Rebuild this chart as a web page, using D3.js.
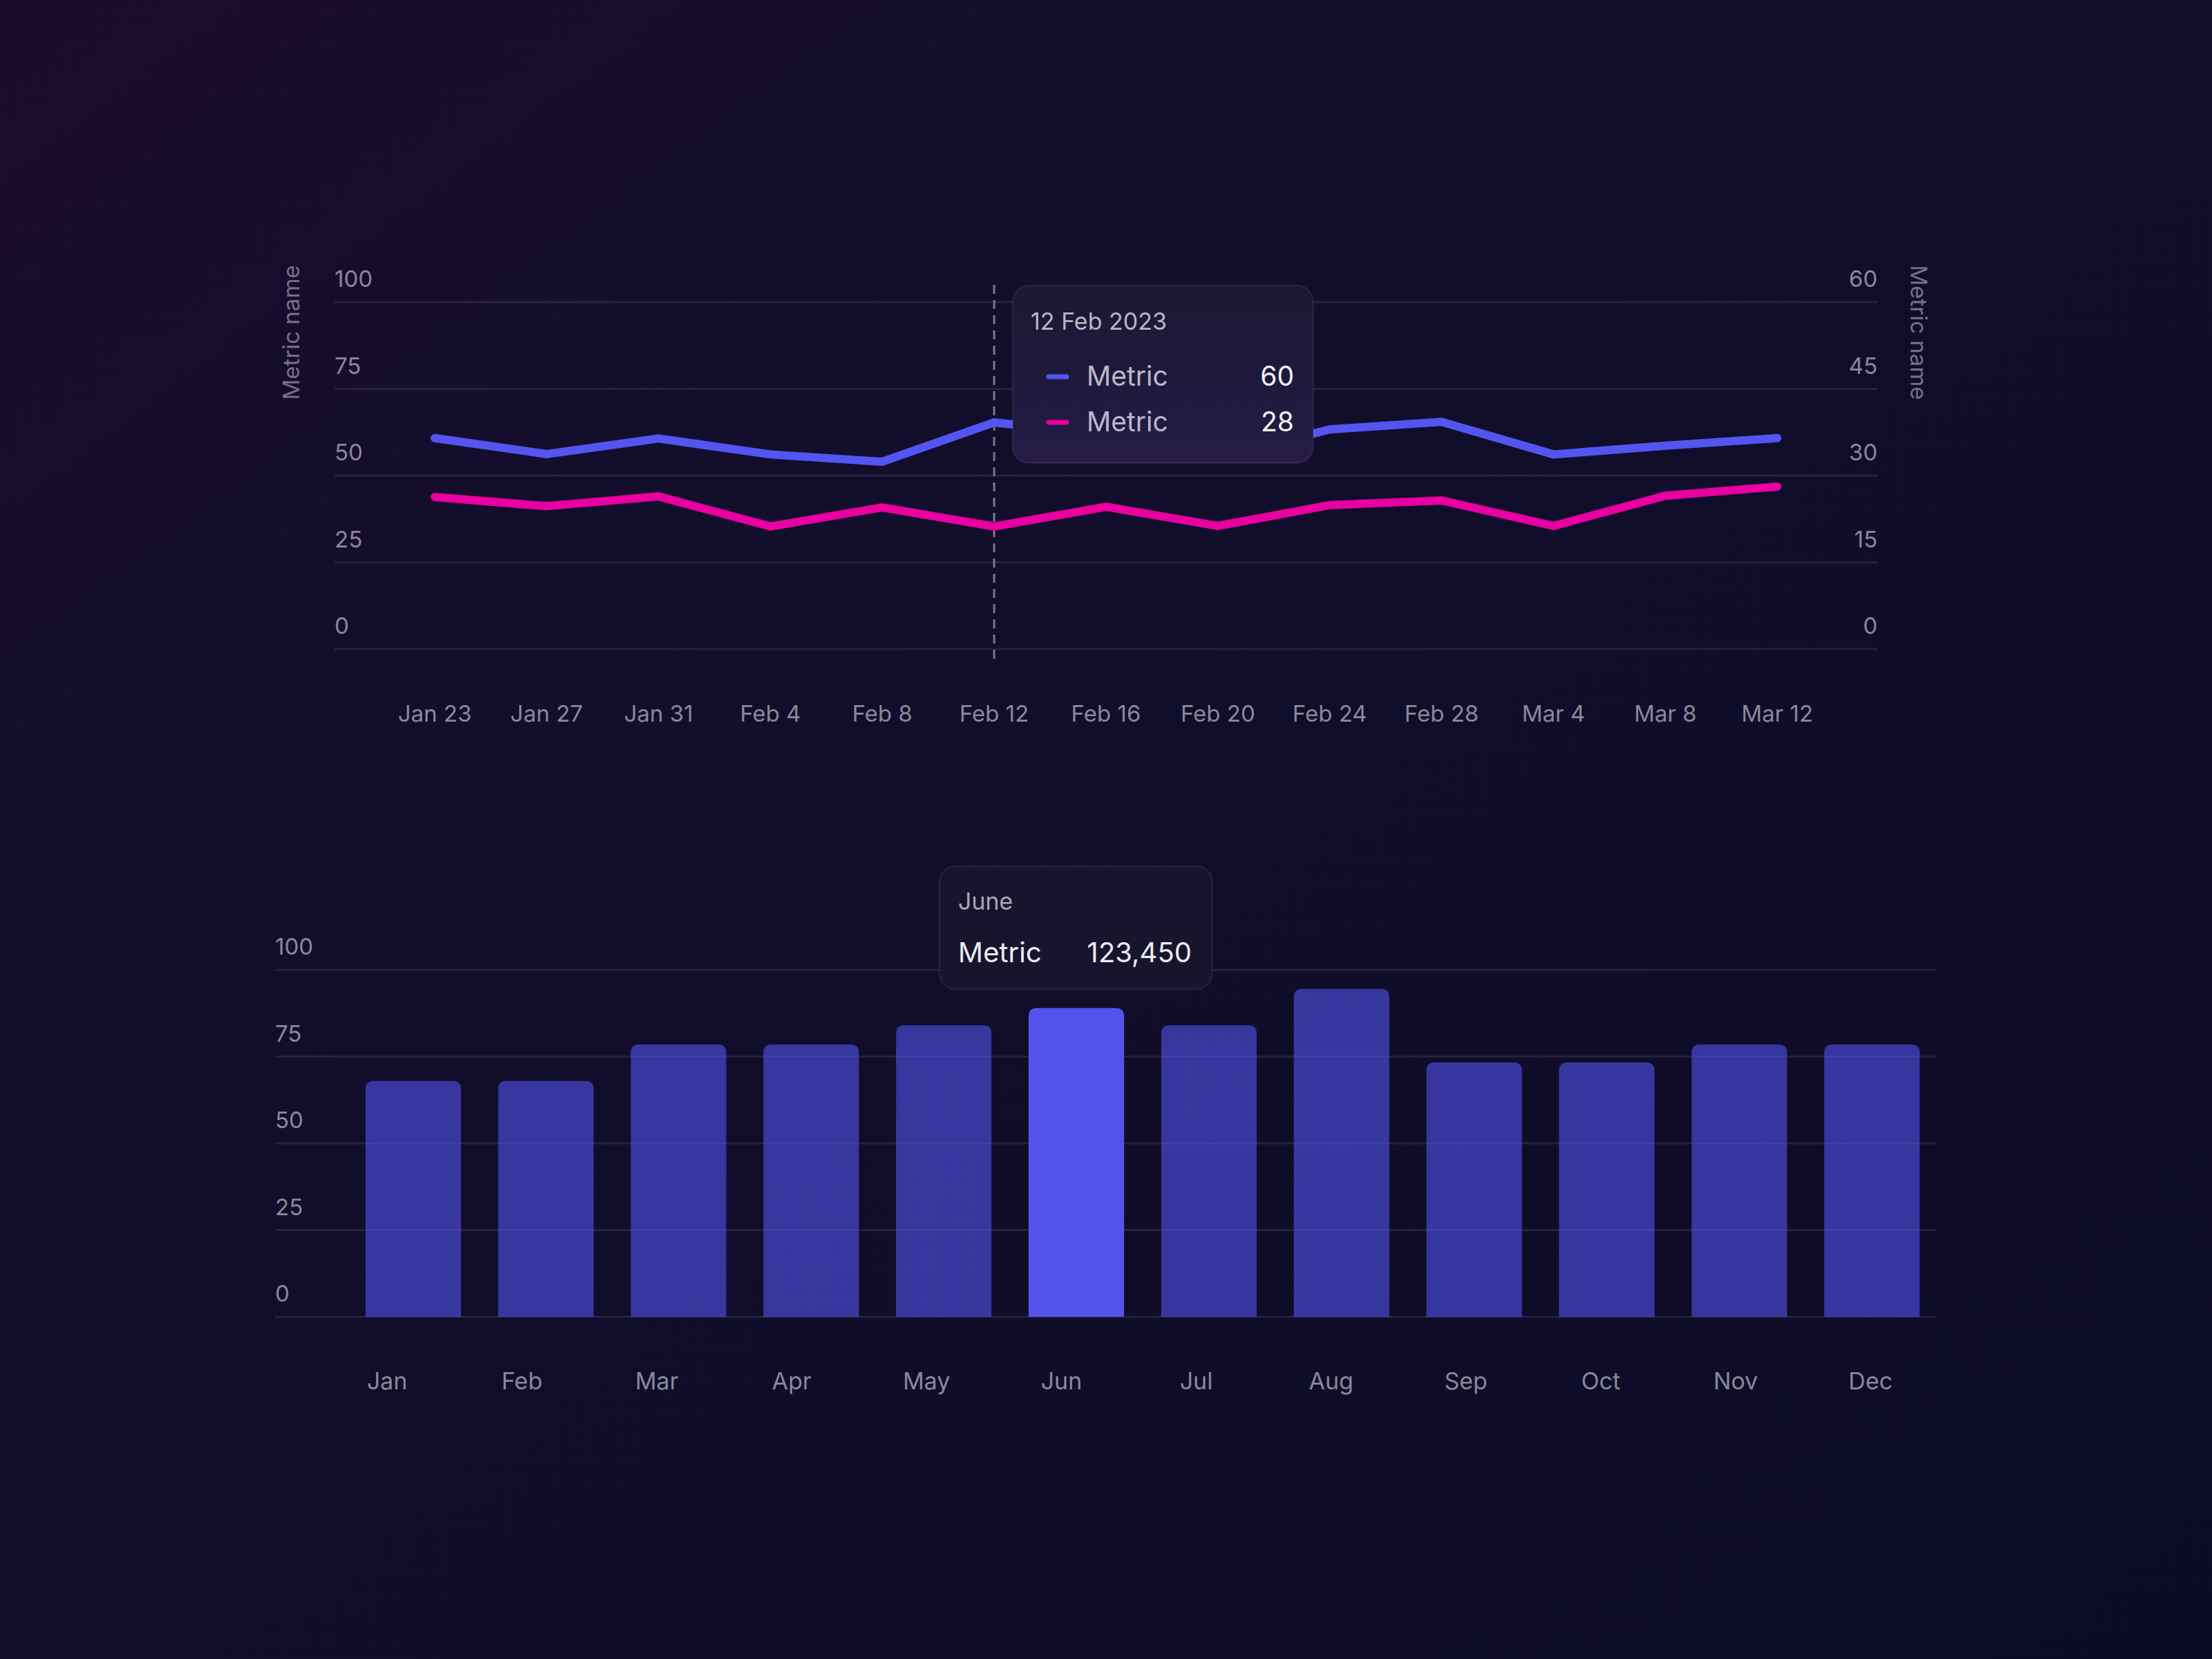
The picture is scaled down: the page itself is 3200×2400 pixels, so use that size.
<!DOCTYPE html>
<html>
<head>
<meta charset="utf-8">
<script src="https://cdn.jsdelivr.net/npm/d3@7"></script>
<style>
  html, body { margin: 0; padding: 0; background: #110e2b; }
  svg { display: block; font-family: Inter, 'Noto Sans', sans-serif; }
</style>
</head>
<body>
<svg id="chart" width="3200" height="2400"></svg>
<script>
// ---- data: line chart ----
const dates = ['Jan 23', 'Jan 27', 'Jan 31', 'Feb 4', 'Feb 8', 'Feb 12', 'Feb 16',
               'Feb 20', 'Feb 24', 'Feb 28', 'Mar 4', 'Mar 8', 'Mar 12'];
const blueValues = [60.8, 56.2, 60.7, 56.1, 54, 65.3, 62, 55, 63.3, 65.5, 56.1, 58.6, 60.8]; // left axis
const pinkValues = [26.3, 24.7, 26.4, 21.2, 24.5, 21.2, 24.6, 21.3, 24.9, 25.7, 21.3, 26.5, 28.1]; // right axis
const leftTicks = [0, 25, 50, 75, 100];
const rightTicks = [0, 15, 30, 45, 60];
const hoverDate = 'Feb 12';
const lineTooltip = { title: '12 Feb 2023', rows: [['Metric', '60'], ['Metric', '28']] };

// ---- data: bar chart ----
const months = ['Jan', 'Feb', 'Mar', 'Apr', 'May', 'Jun', 'Jul', 'Aug', 'Sep', 'Oct', 'Nov', 'Dec'];
const barValues = [68, 68, 78.5, 78.5, 84, 89, 84, 94.5, 73.3, 73.3, 78.5, 78.5];
const barTicks = [0, 25, 50, 75, 100];
const hoverMonth = 'Jun';
const barTooltip = { title: 'June', label: 'Metric', value: '123,450' };

const blue = '#5455f0';
const pink = '#e800a0';
const barColor = '#5353ec';
const gridColor = 'rgba(255,255,255,0.09)';
const tickColor = '#8b8799';

const svg = d3.select('#chart');
const defs = svg.append('defs');

// background gradient
const bg = defs.append('linearGradient').attr('id', 'bg')
    .attr('x1', 0).attr('y1', 0).attr('x2', 1).attr('y2', 1);
bg.append('stop').attr('offset', '0%').attr('stop-color', '#1b0b2b');
bg.append('stop').attr('offset', '30%').attr('stop-color', '#120e2c');
bg.append('stop').attr('offset', '100%').attr('stop-color', '#0c0b27');
svg.append('rect').attr('width', 3200).attr('height', 2400).attr('fill', 'url(#bg)');

const tipGrad = defs.append('linearGradient').attr('id', 'tipGrad')
    .attr('x1', 0).attr('y1', 0).attr('x2', 0).attr('y2', 1);
tipGrad.append('stop').attr('offset', '0%').attr('stop-color', '#1c1833');
tipGrad.append('stop').attr('offset', '70%').attr('stop-color', '#1f1a40');
tipGrad.append('stop').attr('offset', '100%').attr('stop-color', '#281c48');

// =================== line chart ===================
const lineBox = { left: 484, right: 2716, top: 437, bottom: 939 };

const x = d3.scalePoint().domain(dates).range([629, 2571]);
const yLeft = d3.scaleLinear().domain([0, 100]).range([lineBox.bottom, lineBox.top]);
const yRight = d3.scaleLinear().domain([0, 60]).range([lineBox.bottom, lineBox.top]);

const lineG = svg.append('g');

// gridlines
lineG.append('g').selectAll('line')
    .data(leftTicks)
    .join('line')
    .attr('x1', lineBox.left).attr('x2', lineBox.right)
    .attr('y1', d => yLeft(d)).attr('y2', d => yLeft(d))
    .attr('stroke', gridColor).attr('stroke-width', 3);

// left tick labels
lineG.append('g').selectAll('text')
    .data(leftTicks)
    .join('text')
    .attr('x', lineBox.left).attr('y', d => yLeft(d) - 22)
    .attr('fill', tickColor).style('font-size', '33px')
    .text(d => d);

// right tick labels
lineG.append('g').selectAll('text')
    .data(rightTicks)
    .join('text')
    .attr('x', lineBox.right).attr('y', d => yRight(d) - 22)
    .attr('text-anchor', 'end')
    .attr('fill', tickColor).style('font-size', '33px')
    .text(d => d);

// axis titles
lineG.append('text')
    .attr('transform', 'translate(433, 481) rotate(-90)')
    .attr('text-anchor', 'middle')
    .attr('fill', '#75718a').style('font-size', '33px')
    .text('Metric name');

lineG.append('text')
    .attr('transform', 'translate(2764, 481) rotate(90)')
    .attr('text-anchor', 'middle')
    .attr('fill', '#75718a').style('font-size', '33px')
    .text('Metric name');

// x labels
lineG.append('g').selectAll('text')
    .data(dates)
    .join('text')
    .attr('x', d => x(d)).attr('y', 1044)
    .attr('text-anchor', 'middle')
    .attr('fill', tickColor).style('font-size', '33px')
    .text(d => d);

// hover guide
lineG.append('line')
    .attr('x1', x(hoverDate)).attr('x2', x(hoverDate))
    .attr('y1', 412).attr('y2', 960)
    .attr('stroke', '#7a768b').attr('stroke-width', 3)
    .attr('stroke-dasharray', '13 9');

// series
const blueLine = d3.line().x((d, i) => x(dates[i])).y(d => yLeft(d));
const pinkLine = d3.line().x((d, i) => x(dates[i])).y(d => yRight(d));

lineG.append('path')
    .datum(pinkValues)
    .attr('d', pinkLine)
    .attr('fill', 'none').attr('stroke', pink)
    .attr('stroke-width', 12).attr('stroke-linecap', 'round');

lineG.append('path')
    .datum(blueValues)
    .attr('d', blueLine)
    .attr('fill', 'none').attr('stroke', blue)
    .attr('stroke-width', 12).attr('stroke-linecap', 'round');

// tooltip
const tip = lineG.append('g').attr('transform', 'translate(1465, 413)');
tip.append('rect')
    .attr('width', 435).attr('height', 257).attr('rx', 24)
    .attr('fill', 'url(#tipGrad)')
    .attr('stroke', 'rgba(255,255,255,0.06)').attr('stroke-width', 3);
tip.append('text')
    .attr('x', 26).attr('y', 64)
    .attr('fill', '#b9b6c6').style('font-size', '34px')
    .text(lineTooltip.title);

const swatches = [blue, pink];
lineTooltip.rows.forEach((row, i) => {
    const ry = 132 + i * 66;
    tip.append('line')
        .attr('x1', 52).attr('x2', 78)
        .attr('y1', ry).attr('y2', ry)
        .attr('stroke', swatches[i]).attr('stroke-width', 7)
        .attr('stroke-linecap', 'round');
    tip.append('text')
        .attr('x', 107).attr('y', ry + 13)
        .attr('fill', '#bcb8ca').style('font-size', '39px')
        .text(row[0]);
    tip.append('text')
        .attr('x', 407).attr('y', ry + 13)
        .attr('text-anchor', 'end')
        .attr('fill', '#f2f1f6').style('font-size', '39px')
        .text(row[1]);
});

// =================== bar chart ===================
const barBox = { left: 398, right: 2802, top: 1403, bottom: 1905 };

const xBand = d3.scaleBand()
    .domain(months)
    .range([502, 2804])
    .paddingInner(0.28)
    .paddingOuter(0.14);
const xLabel = d3.scalePoint().domain(months).range([560, 2706]);
const yBar = d3.scaleLinear().domain([0, 100]).range([barBox.bottom, barBox.top]);

const barG = svg.append('g');

barG.append('g').selectAll('line')
    .data(barTicks)
    .join('line')
    .attr('x1', barBox.left).attr('x2', barBox.right)
    .attr('y1', d => yBar(d)).attr('y2', d => yBar(d))
    .attr('stroke', gridColor).attr('stroke-width', 3);

barG.append('g').selectAll('text')
    .data(barTicks)
    .join('text')
    .attr('x', barBox.left).attr('y', d => yBar(d) - 22)
    .attr('fill', tickColor).style('font-size', '33px')
    .text(d => d);

// bars with rounded top corners
const r = 12;
function topRounded(x0, y0, w, h) {
    return `M${x0},${y0 + h}V${y0 + r}Q${x0},${y0} ${x0 + r},${y0}` +
        `H${x0 + w - r}Q${x0 + w},${y0} ${x0 + w},${y0 + r}V${y0 + h}Z`;
}

barG.append('g').selectAll('path')
    .data(months.map((m, i) => ({ month: m, value: barValues[i] })))
    .join('path')
    .attr('d', d => topRounded(xBand(d.month), yBar(d.value), xBand.bandwidth(), yBar(0) - yBar(d.value)))
    .attr('fill', barColor)
    .attr('fill-opacity', d => d.month === hoverMonth ? 1 : 0.6);

barG.append('g').selectAll('text')
    .data(months)
    .join('text')
    .attr('x', d => xLabel(d)).attr('y', 2010)
    .attr('text-anchor', 'middle')
    .attr('fill', tickColor).style('font-size', '34px')
    .text(d => d);

// tooltip
const tip2 = barG.append('g').attr('transform', 'translate(1359, 1253)');
tip2.append('rect')
    .attr('width', 395).attr('height', 178).attr('rx', 24)
    .attr('fill', '#17142e')
    .attr('stroke', 'rgba(255,255,255,0.06)').attr('stroke-width', 3);
tip2.append('text')
    .attr('x', 27).attr('y', 63)
    .attr('fill', '#aaa6b8').style('font-size', '34px')
    .text(barTooltip.title);
tip2.append('text')
    .attr('x', 27).attr('y', 139)
    .attr('fill', '#ecebf2').style('font-size', '40px')
    .text(barTooltip.label);
tip2.append('text')
    .attr('x', 365).attr('y', 139)
    .attr('text-anchor', 'end')
    .attr('fill', '#ecebf2').style('font-size', '40px')
    .text(barTooltip.value);
</script>
</body>
</html>
